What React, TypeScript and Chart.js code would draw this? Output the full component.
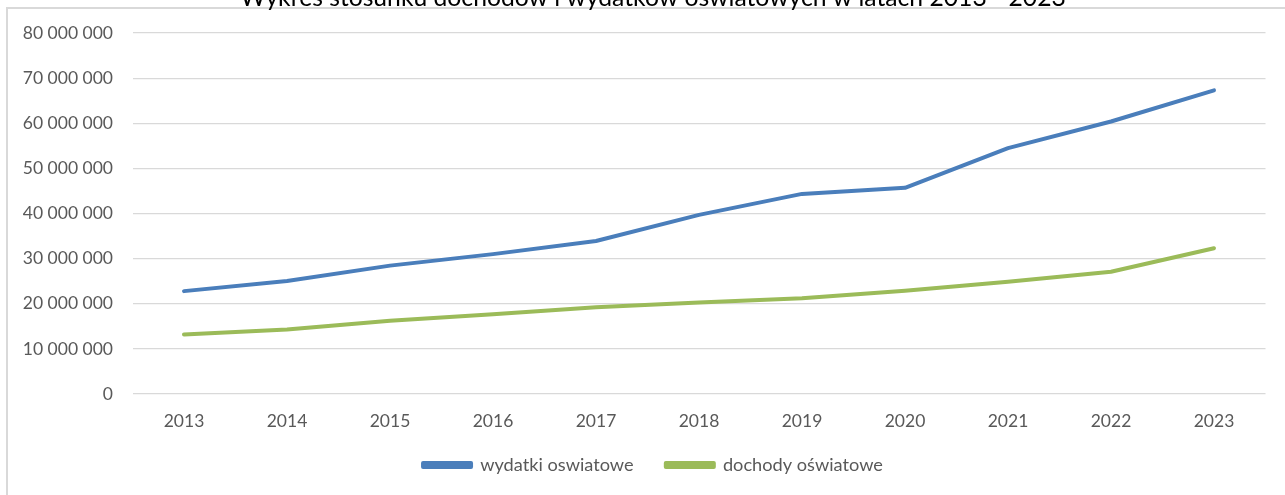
import React, { useEffect, useRef } from "react";
import { Chart, registerables } from "chart.js";

Chart.register(...registerables);

const titleText = "Wykres stosunku dochodów i wydatków oświatowych w latach 2013 - 2023";
const years = ["2013", "2014", "2015", "2016", "2017", "2018", "2019", "2020", "2021", "2022", "2023"];
const wydatkiName = "wydatki oswiatowe";
const dochodyName = "dochody oświatowe";
const wydatki = [22.8e6, 25.05e6, 28.45e6, 31.0e6, 33.9e6, 39.7e6, 44.35e6, 45.7e6, 54.5e6, 60.4e6, 67.3e6];
const dochody = [13.2e6, 14.3e6, 16.25e6, 17.7e6, 19.2e6, 20.3e6, 21.2e6, 22.9e6, 24.9e6, 27.1e6, 32.3e6];
const yMin = 0;
const yMax = 80e6;
const yStep = 10e6;

const FONT = "Lato, 'Open Sans', sans-serif";
const SHIFT = 17;
const CANVAS_H = 495 + SHIFT;

function fmt(v: number): string {
  return Math.round(v).toString().replace(/\B(?=(\d{3})+(?!\d))/g, " ");
}

export default function App() {
  const ref = useRef<HTMLCanvasElement | null>(null);
  useEffect(() => {
    if (!ref.current) return;
    const chart = new Chart(ref.current, {
      type: "line",
      data: {
        labels: years,
        datasets: [
          {
            label: wydatkiName,
            data: wydatki,
            borderColor: "#4A7EBB",
            backgroundColor: "#4A7EBB",
            borderWidth: 4,
            pointRadius: 0,
            tension: 0,
            borderCapStyle: "round",
            borderJoinStyle: "round",
            yAxisID: "y",
          },
          {
            label: dochodyName,
            data: dochody,
            borderColor: "#9BBB59",
            backgroundColor: "#9BBB59",
            borderWidth: 4,
            pointRadius: 0,
            tension: 0,
            borderCapStyle: "round",
            borderJoinStyle: "round",
            yAxisID: "y",
          },
        ],
      },
      options: {
        responsive: false,
        animation: false,
        layout: { padding: { left: 0, right: -21, top: 0, bottom: 10.9 } },
        plugins: {
          title: {
            display: true,
            text: titleText,
            color: "#000000",
            font: { family: FONT, size: 24.7, weight: "normal" },
            padding: { top: 0, bottom: 20.4 },
          },
          legend: {
            display: true,
            position: "bottom",
            labels: {
              boxWidth: 48,
              boxHeight: 4,
              padding: 22.9,
              color: "#595959",
              font: { family: FONT, size: 18.2 },
              generateLabels: (ch: any) => {
                const items = Chart.defaults.plugins.legend.labels.generateLabels(ch);
                return items.map((it: any, i: number) =>
                  i < items.length - 1 ? { ...it, text: it.text + "  " } : it
                );
              },
            },
          },
          tooltip: { enabled: false },
        },
        scales: {
          x: {
            offset: true,
            grid: { display: false, drawTicks: false },
            border: { display: false },
            ticks: {
              color: "#595959",
              font: { family: FONT, size: 17.5 },
              padding: 17,
              maxRotation: 0,
            },
            afterFit: (scale: any) => {
              scale.height = 39;
            },
          },
          y: {
            min: yMin,
            max: yMax,
            grid: { color: "#d9d9d9", lineWidth: 1.2, drawTicks: false },
            border: { display: false },
            ticks: {
              stepSize: yStep,
              color: "#595959",
              font: { family: FONT, size: 17.5 },
              padding: 19.5,
              callback: (v: any) => fmt(Number(v)),
            },
            afterFit: (scale: any) => {
              scale.width = 132.5;
            },
          },
          spacer: {
            type: "linear",
            position: "right",
            display: true,
            grid: { display: false, drawTicks: false },
            border: { display: false },
            ticks: { display: false },
            afterFit: (scale: any) => {
              scale.width = 40.5;
            },
          },
        },
      },
    });
    return () => chart.destroy();
  }, []);

  return (
    <div
      style={{
        position: "absolute",
        left: 0,
        top: 0,
        width: 1285,
        height: 495,
        overflow: "hidden",
        background: "#ffffff",
      }}
    >
      <div
        style={{
          position: "absolute",
          left: 6,
          top: 7,
          width: 1400,
          height: 600,
          borderLeft: "2px solid #d9d9d9",
          borderTop: "2px solid #d9d9d9",
        }}
      />
      <canvas
        ref={ref}
        width={1285}
        height={CANVAS_H}
        style={{ position: "absolute", left: 0, top: -SHIFT, width: 1285, height: CANVAS_H }}
      />
    </div>
  );
}
